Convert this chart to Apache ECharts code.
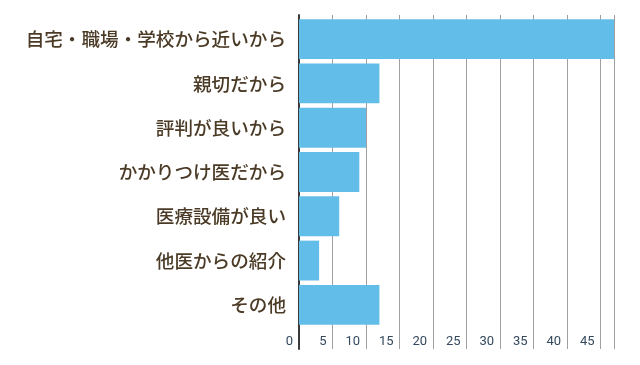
<!DOCTYPE html>
<html>
<head>
<meta charset="utf-8">
<script src="https://cdn.jsdelivr.net/npm/echarts@6/dist/echarts.min.js"></script>
<style>
html,body{margin:0;padding:0;background:#fff;}
#chart{width:640px;height:365px;}
</style>
</head>
<body>
<div id="chart"></div>
<script>
const categories = ['自宅・職場・学校から近いから','親切だから','評判が良いから','かかりつけ医だから','医療設備が良い','他医からの紹介','その他'];
const values = [47, 12, 10, 9, 6, 3, 12];
const xMin = 0, xMax = 47, xInterval = 5;

const chart = echarts.init(document.getElementById('chart'), null, {renderer:'canvas'});
chart.setOption({
  animation: false,
  backgroundColor: '#ffffff',
  grid: [
    {left: 299, right: 26, top: 17, bottom: 38},
    {left: 299, right: 26, top: 15, bottom: 16}
  ],
  xAxis: [
    {
      type: 'value', gridIndex: 0, min: xMin, max: xMax, interval: xInterval,
      axisLine: {show: false}, axisTick: {show: false}, splitLine: {show: false},
      axisLabel: {
        show: true, margin: 8, align: 'right', padding: [0, 6, 0, 0],
        color: '#34495e', fontSize: 13, fontFamily: 'Roboto',
        showMaxLabel: false
      }
    },
    {
      type: 'value', gridIndex: 1, min: xMin, max: xMax, interval: xInterval,
      axisLine: {show: false}, axisTick: {show: false}, axisLabel: {show: false},
      splitLine: {show: true, lineStyle: {color: '#a0a0a0', width: 1}}
    }
  ],
  yAxis: [
    {
      type: 'category', gridIndex: 0, inverse: true, data: categories,
      axisLine: {show: false}, axisTick: {show: false},
      axisLabel: {
        margin: 13, color: '#4b3b26', fontSize: 18.6, fontWeight: 500,
        fontFamily: '"Noto Sans CJK JP", "Noto Sans", sans-serif'
      }
    },
    {
      type: 'value', gridIndex: 1, min: 0, max: 1,
      axisLine: {show: true, onZero: false, lineStyle: {color: '#3a3a3a', width: 2}},
      axisTick: {show: false}, axisLabel: {show: false}, splitLine: {show: false}
    }
  ],
  series: [{
    type: 'bar', xAxisIndex: 0, yAxisIndex: 0, data: values,
    barCategoryGap: '10%',
    itemStyle: {color: '#63bde9'},
    z: 5
  }]
});
</script>
</body>
</html>
